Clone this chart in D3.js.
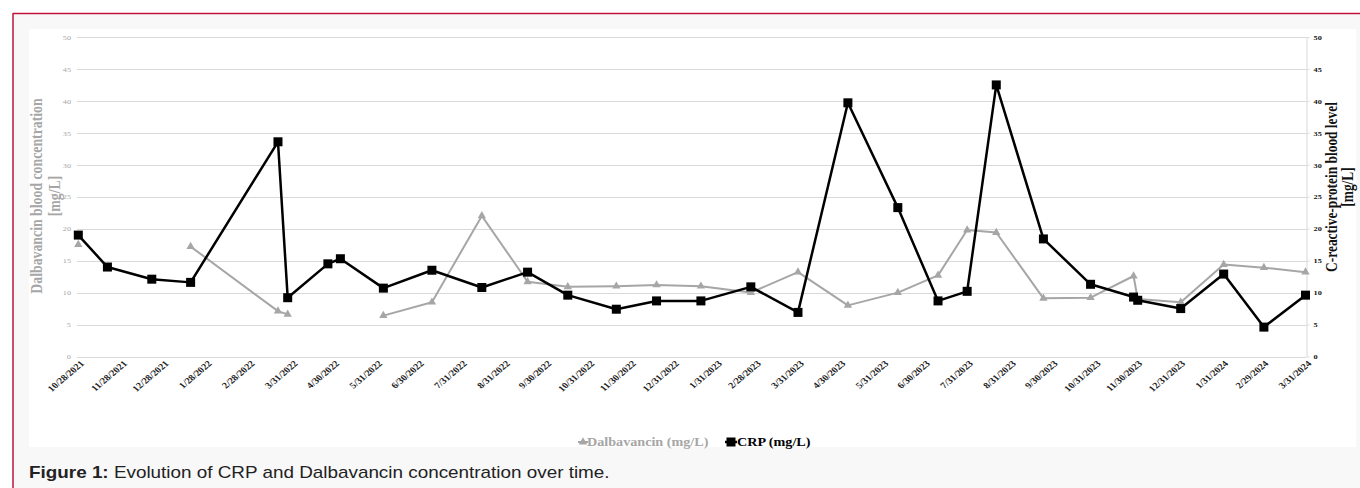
<!DOCTYPE html>
<html>
<head>
<meta charset="utf-8">
<script src="https://cdn.jsdelivr.net/npm/d3@7"></script>
<style>
  html, body { margin: 0; padding: 0; background: #ffffff; }
  svg { display: block; }
</style>
</head>
<body>
<svg id="chart" width="1360" height="488"></svg>
<script>
// Sampling dates (ISO) for each measurement
const sampleDates = [
  "2021-10-28", "2021-11-18", "2021-12-20", "2022-01-17", "2022-03-21", "2022-03-28",
  "2022-04-26", "2022-05-05", "2022-06-05", "2022-07-10", "2022-08-15", "2022-09-17",
  "2022-10-16", "2022-11-20", "2022-12-19", "2023-01-20", "2023-02-25", "2023-03-31",
  "2023-05-06", "2023-06-11", "2023-07-10", "2023-07-31", "2023-08-21", "2023-09-24",
  "2023-10-28", "2023-11-28", "2023-12-01", "2024-01-01", "2024-02-01", "2024-03-01",
  "2024-03-31"
];

// Dalbavancin blood concentration (mg/L); null = not measured
const dalbavancin = [
  17.5, null, null, 17.2, 7.1, 6.6,
  null, null, 6.4, 8.5, 22.0, 11.7,
  10.9, 11.0, 11.2, 11.0, 10.0, 13.2,
  8.0, 10.0, 12.7, 19.8, 19.4, 9.1,
  9.2, 12.6, 9.0, 8.5, 14.4, 13.9,
  13.2
];

// C-reactive protein (mg/L)
const crp = [
  19.0, 14.0, 12.1, 11.6, 33.6, 9.2,
  14.5, 15.3, 10.7, 13.5, 10.8, 13.2,
  9.6, 7.4, 8.7, 8.7, 10.9, 6.9,
  39.7, 23.3, 8.7, 10.2, 42.5, 18.4,
  11.3, 9.3, 8.8, 7.5, 12.9, 4.6,
  9.6
];

// Date axis labels
const tickDates = [
  "2021-10-28", "2021-11-28", "2021-12-28", "2022-01-28", "2022-02-28", "2022-03-31",
  "2022-04-30", "2022-05-31", "2022-06-30", "2022-07-31", "2022-08-31", "2022-09-30",
  "2022-10-31", "2022-11-30", "2022-12-31", "2023-01-31", "2023-02-28", "2023-03-31",
  "2023-04-30", "2023-05-31", "2023-06-30", "2023-07-31", "2023-08-31", "2023-09-30",
  "2023-10-31", "2023-11-30", "2023-12-31", "2024-01-31", "2024-02-29", "2024-03-31"
];

// Value axis ticks (both axes share 0–50)
const yTicks = [0, 5, 10, 15, 20, 25, 30, 35, 40, 45, 50];

const seriesNames = ["Dalbavancin (mg/L)", "CRP (mg/L)"];
const leftTitle = ["Dalbavancin blood concentration", "[mg/L]"];
const rightTitle = ["C-reactive-protein blood level", "[mg/L]"];
const captionLead = "Figure 1:";
const captionText = " Evolution of CRP and Dalbavancin concentration over time.";

const parse = d3.timeParse("%Y-%m-%d");
const fmt = d3.timeFormat("%-m/%-d/%Y");

const rows = sampleDates.map((s, i) => ({ date: parse(s), dal: dalbavancin[i], crp: crp[i] }));
const ticks = tickDates.map(parse);

const svg = d3.select("#chart");
const W = 1360, H = 488;
// Text in this figure is set slightly wide
const SX = 1.18;

// Page frame: accent rule and tinted panel
svg.append("rect").attr("x", 13).attr("y", 13).attr("width", W - 13).attr("height", H - 13)
  .attr("fill", "#f9f8f9");
svg.append("line").attr("x1", 13).attr("x2", W).attr("y1", 13.5).attr("y2", 13.5)
  .attr("stroke", "#c0143c").attr("stroke-width", 1.5);
svg.append("line").attr("x1", 13).attr("x2", 13).attr("y1", 13).attr("y2", H)
  .attr("stroke", "#c0143c").attr("stroke-width", 1.5);

// Chart area
svg.append("rect").attr("x", 29).attr("y", 29).attr("width", 1327).attr("height", 418)
  .attr("fill", "#ffffff");

const serif = "'Liberation Serif','Times New Roman',serif";

const x = d3.scaleTime()
  .domain([ticks[0], ticks[ticks.length - 1]])
  .range([78.3, 1305.5]);
const y = d3.scaleLinear().domain([0, 50]).range([356.5, 37]);

// Horizontal gridlines
svg.append("g").selectAll("line").data(yTicks).join("line")
  .attr("x1", 77).attr("x2", 1306)
  .attr("y1", d => Math.round(y(d)) + 0.5).attr("y2", d => Math.round(y(d)) + 0.5)
  .attr("stroke", "#d9d9d9").attr("stroke-width", 1);

// Left axis (Dalbavancin)
const gLeft = svg.append("g").attr("transform", "translate(71,0)")
  .call(d3.axisLeft(y).tickValues(yTicks).tickSize(0).tickPadding(0));
gLeft.select(".domain").remove();
gLeft.selectAll("text").attr("font-family", serif).attr("font-size", 7).attr("fill", "#a6a6a6")
  .attr("transform", `scale(${SX},1)`);

// Right axis (CRP)
const gRight = svg.append("g").attr("transform", "translate(1306.5,0)")
  .call(d3.axisRight(y).tickValues(yTicks).tickSize(3).tickSizeOuter(0).tickPadding(3));
gRight.select(".domain").attr("stroke", "#d9d9d9");
gRight.selectAll(".tick line").attr("stroke", "#d9d9d9");
gRight.selectAll("text").attr("font-family", serif).attr("font-size", 7)
  .attr("font-weight", "bold").attr("fill", "#111")
  .attr("transform", `scale(${SX},1)`);

// Date labels, rotated
svg.append("g").selectAll("text").data(ticks).join("text")
  .attr("transform", d => `translate(${x(d) + 4},${362}) scale(${SX},1) rotate(-45)`)
  .attr("text-anchor", "end").attr("dy", "0.35em")
  .attr("font-family", serif).attr("font-size", 8.7).attr("font-weight", "bold")
  .attr("fill", "#222")
  .text(d => fmt(d));

// Axis titles
const lt = svg.append("text")
  .attr("transform", `translate(46,196) scale(${SX},1) rotate(-90)`)
  .attr("text-anchor", "middle").attr("font-family", serif).attr("font-size", 13.8)
  .attr("font-weight", "bold").attr("fill", "#a6a6a6");
lt.append("tspan").attr("x", 0).attr("dy", -3.1).text(leftTitle[0]);
lt.append("tspan").attr("x", 0).attr("dy", 15.25).text(leftTitle[1]);

const rt = svg.append("text")
  .attr("transform", `translate(1340,187) scale(${SX},1) rotate(-90)`)
  .attr("text-anchor", "middle").attr("font-family", serif).attr("font-size", 13.4)
  .attr("font-weight", "bold").attr("fill", "#111");
rt.append("tspan").attr("x", 0).attr("dy", -2.4).text(rightTitle[0]);
rt.append("tspan").attr("x", 0).attr("dy", 13.6).text(rightTitle[1]);

// Dalbavancin series
const dalLine = d3.line().defined(d => d.dal != null).x(d => x(d.date)).y(d => y(d.dal));
svg.append("path").datum(rows).attr("d", dalLine)
  .attr("fill", "none").attr("stroke", "#a6a6a6").attr("stroke-width", 2).attr("stroke-linejoin", "round");
const tri = d3.symbol(d3.symbolTriangle, 30);
svg.append("g").selectAll("path").data(rows.filter(d => d.dal != null)).join("path")
  .attr("d", tri).attr("transform", d => `translate(${x(d.date)},${y(d.dal)})`)
  .attr("fill", "#a6a6a6");

// CRP series
const crpLine = d3.line().x(d => x(d.date)).y(d => y(d.crp));
svg.append("path").datum(rows).attr("d", crpLine)
  .attr("fill", "none").attr("stroke", "#000").attr("stroke-width", 2.5).attr("stroke-linejoin", "round");
const sq = 9;
svg.append("g").selectAll("rect").data(rows).join("rect")
  .attr("x", d => x(d.date) - sq / 2).attr("y", d => y(d.crp) - sq / 2)
  .attr("width", sq).attr("height", sq).attr("fill", "#000");

// Legend
const lg = svg.append("g").attr("transform", "translate(0,442)");
const l1 = lg.append("g").attr("transform", "translate(583,0)");
l1.append("line").attr("x1", -5).attr("x2", 5).attr("stroke", "#a6a6a6").attr("stroke-width", 2);
l1.append("path").attr("d", d3.symbol(d3.symbolTriangle, 30)).attr("fill", "#a6a6a6");
l1.append("text").attr("transform", `translate(4,0) scale(${SX},1)`).attr("dy", "0.35em")
  .attr("font-family", serif).attr("font-size", 12).attr("font-weight", "bold")
  .attr("fill", "#a6a6a6").text(seriesNames[0]);
const l2 = lg.append("g").attr("transform", "translate(731,0)");
l2.append("line").attr("x1", -6).attr("x2", 6).attr("stroke", "#000").attr("stroke-width", 2.5);
l2.append("rect").attr("x", -4.5).attr("y", -4.5).attr("width", 9).attr("height", 9).attr("fill", "#000");
l2.append("text").attr("transform", `translate(6,0) scale(${SX},1)`).attr("dy", "0.35em")
  .attr("font-family", serif).attr("font-size", 12).attr("font-weight", "bold")
  .attr("fill", "#000").text(seriesNames[1]);

// Caption
const cap = svg.append("text").attr("transform", `translate(29,478) scale(${SX},1)`)
  .attr("font-family", "'Liberation Sans',Arial,sans-serif").attr("font-size", 16).attr("fill", "#222");
cap.append("tspan").attr("font-weight", "bold").text(captionLead);
cap.append("tspan").text(captionText);
</script>
</body>
</html>
